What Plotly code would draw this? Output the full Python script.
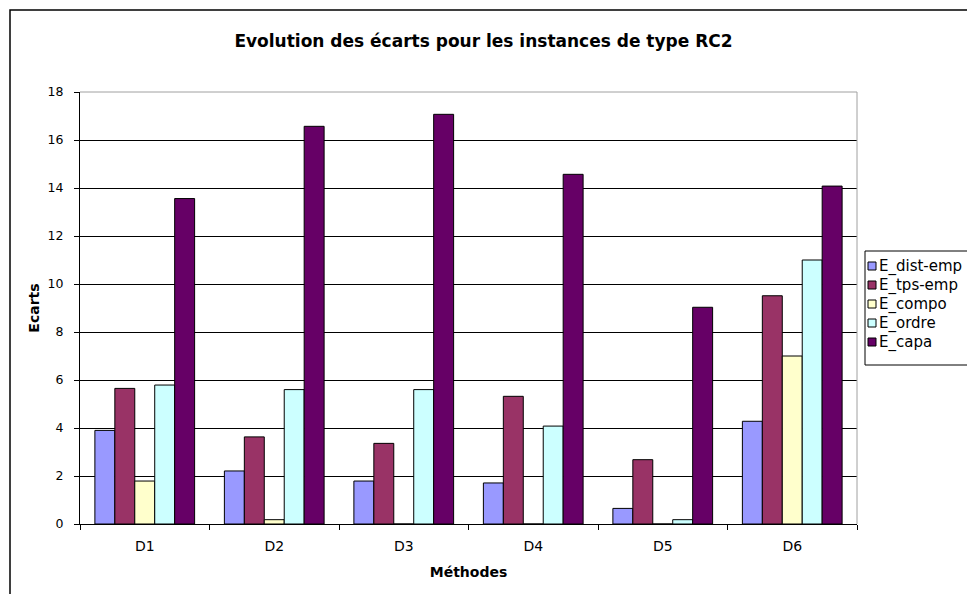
import plotly.graph_objects as go

categories = ["D1", "D2", "D3", "D4", "D5", "D6"]
e_dist_emp = [3.90, 2.21, 1.79, 1.71, 0.65, 4.28]
e_tps_emp = [5.65, 3.63, 3.36, 5.32, 2.68, 9.51]
e_compo = [1.79, 0.18, 0, 0, 0, 7.00]
e_ordre = [5.79, 5.60, 5.60, 4.08, 0.18, 11.00]
e_capa = [13.56, 16.57, 17.07, 14.57, 9.03, 14.08]

series_names = ["E_dist-emp", "E_tps-emp", "E_compo", "E_ordre", "E_capa"]
series_values = [e_dist_emp, e_tps_emp, e_compo, e_ordre, e_capa]
series_colors = ["#9999FF", "#993366", "#FFFFCC", "#CCFFFF", "#660066"]

W, H = 967, 594
L, R, T, B = 80, 857, 92, 524
pw, ph = R - L, B - T

def px(x):
    return (x - L) / pw

def py(y):
    return (B - y) / ph

font = "'DejaVu Sans', sans-serif"

fig = go.Figure()
for name, vals, col in zip(series_names, series_values, series_colors):
    fig.add_trace(go.Bar(
        x=categories, y=vals, name=name, showlegend=False,
        marker=dict(color=col, line=dict(color="#000000", width=1)),
    ))

shapes = [
    dict(type="line", xref="paper", yref="paper", x0=0, x1=1, y0=1, y1=1,
         line=dict(color="#A0A0A0", width=1), layer="above"),
    dict(type="line", xref="paper", yref="paper", x0=1, x1=1, y0=0, y1=1,
         line=dict(color="#A0A0A0", width=1), layer="above"),
    dict(type="rect", xref="paper", yref="paper",
         x0=px(10), x1=px(1000), y0=py(10), y1=py(620),
         line=dict(color="black", width=1.5), layer="above"),
    # legend box
    dict(type="rect", xref="paper", yref="paper",
         x0=px(865), x1=px(1000), y0=py(365), y1=py(251),
         line=dict(color="black", width=1), fillcolor="white", layer="above"),
]
annotations = []
for i, (name, col) in enumerate(zip(series_names, series_colors)):
    yc = 266 + 19 * i
    shapes.append(dict(type="rect", xref="paper", yref="paper",
                       x0=px(868), x1=px(876), y0=py(yc + 4), y1=py(yc - 4),
                       line=dict(color="black", width=1), fillcolor=col,
                       layer="above"))
    annotations.append(dict(xref="paper", yref="paper", x=px(877), y=py(yc),
                            xanchor="left", yanchor="middle", showarrow=False,
                            text=name, font=dict(size=15, family=font, color="black")))

fig.update_layout(
    width=W, height=H,
    margin=dict(l=L, r=W - R, t=T, b=H - B, pad=0, autoexpand=False),
    paper_bgcolor="white", plot_bgcolor="white",
    barmode="group", bargap=0.23, bargroupgap=0,
    showlegend=False,
    font=dict(family=font, size=13, color="black"),
    title=dict(text="<b>Evolution des écarts pour les instances de type RC2</b>",
               x=0.5, xanchor="center", y=1 - 41 / H, yanchor="middle",
               font=dict(size=17, family=font, color="black")),
    xaxis=dict(
        showline=True, linecolor="black", linewidth=1,
        ticks="outside", ticklen=5, tickcolor="black", tickson="boundaries",
        showgrid=False, ticklabelstandoff=9,
        title=dict(text="<b>Méthodes</b>", font=dict(size=14), standoff=14),
        tickfont=dict(size=14),
    ),
    yaxis=dict(
        range=[0, 18], dtick=2, tick0=0,
        showline=True, linecolor="black", linewidth=1,
        ticks="outside", ticklen=5, tickcolor="black",
        showgrid=True, gridcolor="black", gridwidth=1,
        zeroline=False, ticklabelstandoff=8,
        title=dict(text="<b>Ecarts</b>", font=dict(size=14), standoff=4),
        tickfont=dict(size=12.5),
    ),
    shapes=shapes,
    annotations=annotations,
)

fig.write_html("out.html", config={"displayModeBar": False},
               post_script="document.body.style.margin='0px';document.body.style.overflow='hidden';")
